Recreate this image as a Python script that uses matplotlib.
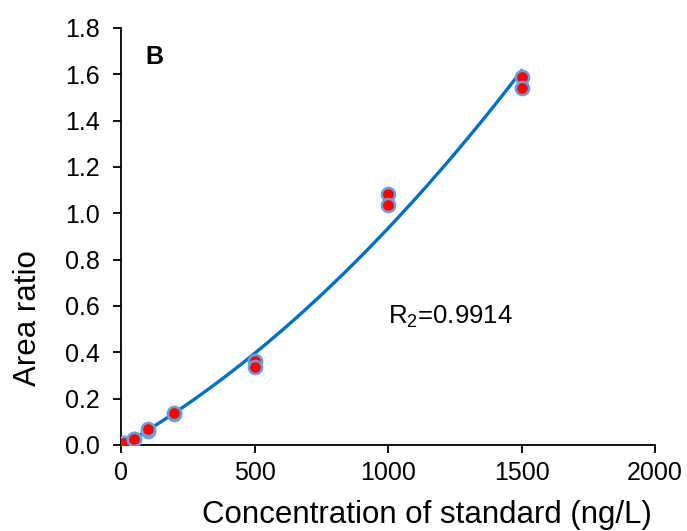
import numpy as np
import matplotlib
matplotlib.use("Agg")
import matplotlib.pyplot as plt

plt.rcParams['font.family'] = ['Liberation Sans', 'DejaVu Sans']
plt.rcParams['mathtext.fontset'] = 'custom'
plt.rcParams['mathtext.rm'] = 'Liberation Sans'
plt.rcParams['mathtext.it'] = 'Liberation Sans'

# calibration standards (ng/L) and measured area ratios (duplicates)
conc = [10, 10, 50, 50, 100, 100, 200, 200, 500, 500, 1000, 1000, 1500, 1500]
ratio = [0.008, 0.010, 0.025, 0.028, 0.060, 0.068, 0.132, 0.140,
         0.362, 0.336, 1.085, 1.035, 1.588, 1.540]
# polynomial trendline as drawn (x^2, x, const)
trend_coef = [2.8e-7, 6.6e-4, -0.005]
r2_text = "R$_2$=0.9914"

xs = np.linspace(min(conc), max(conc), 200)
ys = np.polyval(trend_coef, xs)

fig = plt.figure(figsize=(6.87, 5.31), dpi=100)
ax = fig.add_axes([121/687, 1 - 445/531, (655-121)/687, (445-28)/531])

ax.plot(xs, ys, color='#0070C0', lw=2.4, zorder=2)
ax.plot(conc, ratio, 'o', ms=9.5, mfc='red', mec='#6A9FD8', mew=1.8, zorder=3)

ax.set_xlim(0, 2000)
ax.set_ylim(0, 1.8)
ax.set_xticks([0, 500, 1000, 1500, 2000])
yt = np.arange(0, 1.81, 0.2)
ax.set_yticks(yt)
ax.set_yticklabels([f"{v:.1f}" for v in yt])

for s in ['top', 'right']:
    ax.spines[s].set_visible(False)
for s in ['left', 'bottom']:
    ax.spines[s].set_linewidth(1.3)
ax.tick_params(direction='out', length=5.5, width=1.3, labelsize=18)
ax.tick_params(axis='y', pad=10)
ax.tick_params(axis='x', pad=6)

ax.set_xlabel("Concentration of standard (ng/L)", fontsize=22.5)
ax.set_ylabel("Area ratio", fontsize=22.5)
# label placement in axes fraction
ax.xaxis.set_label_coords((427-121)/534, -(515-445)/417)
ax.yaxis.set_label_coords(-(121-28)/534, (445-318)/417)
ax.xaxis.label.set_va('center')
ax.yaxis.label.set_va('center')

ax.text(90, 1.675, "B", fontsize=18, fontweight='bold', va='center')
ax.text(1000, 0.555, r2_text, fontsize=18.5, va='center')

fig.savefig("out.png", dpi=100)
